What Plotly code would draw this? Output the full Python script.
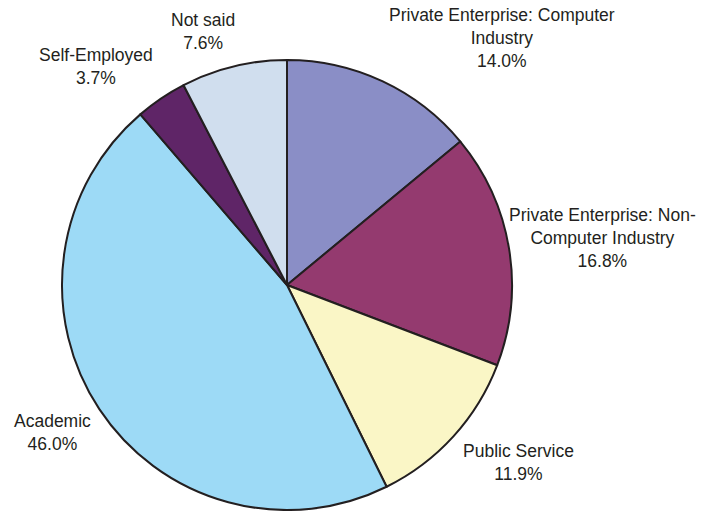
import plotly.graph_objects as go

# Employment sectors (clockwise from 12 o'clock) and their shares in percent
sectors = [
    "Private Enterprise: Computer<br>Industry",
    "Private Enterprise: Non-<br>Computer Industry",
    "Public Service",
    "Academic",
    "Self-Employed",
    "Not said",
]
shares = [14.0, 16.8, 11.9, 46.0, 3.7, 7.6]
colors = ["#8A8EC6", "#943A6F", "#FAF6C6", "#9DDAF6", "#5F2567", "#D0DEEE"]

W, H = 719, 511

# label anchor points (pixels) for each sector's outside label
label_px = [(502, 38), (602, 238), (518, 462), (52, 432), (96, 66), (203, 31)]

fig = go.Figure(
    go.Pie(
        labels=sectors,
        values=shares,
        sort=False,
        direction="clockwise",
        rotation=0,
        textinfo="none",
        hoverinfo="label+percent",
        marker=dict(colors=colors, line=dict(color="#231F20", width=2)),
        domain=dict(x=[62 / W, 512 / W], y=[1 / H, 451 / H]),
        showlegend=False,
    )
)

for name, val, (px, py) in zip(sectors, shares, label_px):
    fig.add_annotation(
        x=px / W,
        y=1 - py / H,
        xref="paper",
        yref="paper",
        text=f"{name}<br>{val:.1f}%",
        showarrow=False,
        xanchor="center",
        yanchor="middle",
        align="center",
        font=dict(family="Liberation Sans, Arial, sans-serif", size=17.5, color="#231F20"),
    )

fig.update_layout(
    width=W,
    height=H,
    margin=dict(l=0, r=0, t=0, b=0),
    paper_bgcolor="white",
    plot_bgcolor="white",
)

fig.write_html("out.html")
